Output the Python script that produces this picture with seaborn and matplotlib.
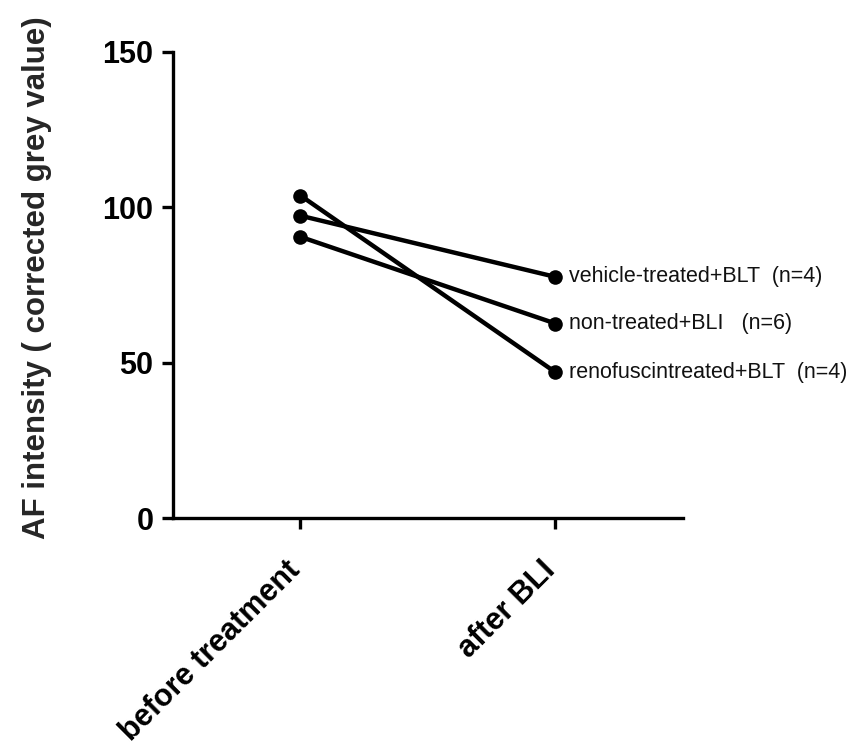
import matplotlib
matplotlib.use("Agg")
import matplotlib.pyplot as plt
import matplotlib.transforms as mtransforms
import seaborn as sns
import pandas as pd

timepoints = ["before treatment", "after BLI"]
groups = ["vehicle-treated+BLT  (n=4)", "non-treated+BLI   (n=6)", "renofuscintreated+BLT  (n=4)"]
vehicle = [97.3, 77.6]
nontreated = [90.5, 62.6]
renofuscin = [103.8, 46.9]
yticks = [0, 50, 100, 150]

rows = []
for g, vals in zip(groups, [vehicle, nontreated, renofuscin]):
    for t, v in zip(timepoints, vals):
        rows.append({"group": g, "time": t, "value": v})
df = pd.DataFrame(rows)

sns.set_theme(style="ticks")
plt.rcParams["font.family"] = ["Liberation Sans", "DejaVu Sans"]

fig = plt.figure(figsize=(8.58, 7.49), dpi=100)
ax = fig.add_axes([0.2016, 0.3084, 0.5944, 0.6222])

sns.lineplot(data=df, x="time", y="value", units="group", estimator=None,
             marker="o", color="black", linewidth=3.2, markersize=10.5,
             markeredgewidth=0, ax=ax, sort=False)

for g, vals in zip(groups, [vehicle, nontreated, renofuscin]):
    ax.annotate(g, xy=(1, vals[1]), xytext=(10, 0), textcoords="offset points",
                ha="left", va="center", fontsize=15.5, color="#111111")

ax.set_xlim(-0.5, 1.5)
ax.set_ylim(0, 150)
ax.set_yticks(yticks)
ax.set_yticklabels([str(v) for v in yticks], fontsize=22, fontweight="bold")
ax.set_xticks([0, 1])
ax.set_xticklabels(timepoints, fontsize=22, fontweight="bold", rotation=45,
                   ha="right", va="center", rotation_mode="anchor")
ax.set_xlabel("")
ax.set_ylabel("AF intensity ( corrected grey value)", fontsize=22.5, fontweight="bold")
ax.yaxis.set_label_coords(-0.237, 0.515)

for s in ["top", "right"]:
    ax.spines[s].set_visible(False)
for s in ["left", "bottom"]:
    ax.spines[s].set_linewidth(2.4)
    ax.spines[s].set_color("black")
ax.tick_params(axis="both", width=2.4, length=8, color="black", labelcolor="black")
ax.tick_params(axis="x", pad=26)
ax.tick_params(axis="y", pad=6)
if ax.get_legend() is not None:
    ax.get_legend().remove()

shift = mtransforms.ScaledTranslation(-0.05, -0.01, fig.dpi_scale_trans)
for lbl in ax.get_xticklabels():
    lbl.set_transform(lbl.get_transform() + shift)

fig.savefig("out.png", dpi=100)
